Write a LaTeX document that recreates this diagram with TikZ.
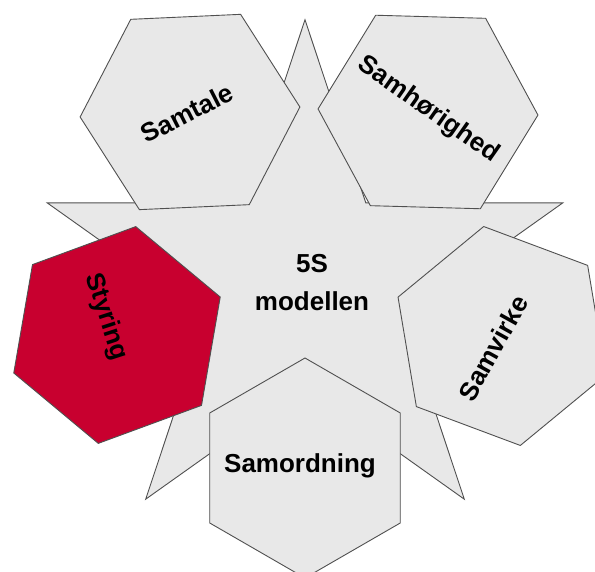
\documentclass[tikz,border=0pt]{standalone}
\usepackage{fontspec}
\setmainfont{Liberation Sans}
\usetikzlibrary{shapes.geometric,calc}

\definecolor{panelgray}{HTML}{E8E8E8}
\definecolor{edgegray}{HTML}{505050}
\definecolor{accentred}{HTML}{C8002F}

\tikzset{
  starshape/.style={fill=panelgray, draw=edgegray, line width=0.9pt, line join=miter},
  hexbox/.style={regular polygon, regular polygon sides=6, minimum size=220pt,
    inner sep=0pt, outer sep=0pt, fill=panelgray, draw=edgegray, line width=0.9pt},
  hexred/.style={hexbox, fill=accentred},
  label5s/.style={font=\bfseries\fontsize{26}{38}\selectfont, text=black, inner sep=0pt}
}

\begin{document}
\begin{tikzpicture}[x=1pt,y=1pt]
  \useasboundingbox (0,0) rectangle (595,572);
  \fill[white] (0,0) rectangle (595,572);
  \clip (0,0) rectangle (595,572);

  % five-pointed star behind the hexagons
  \coordinate (sc) at (305,287.2);
  \draw[starshape]
    ($(sc)+(90:271 and 265)$)  -- ($(sc)+(126:103.5 and 101.2)$) --
    ($(sc)+(162:271 and 265)$) -- ($(sc)+(198:103.5 and 101.2)$) --
    ($(sc)+(234:271 and 265)$) -- ($(sc)+(270:103.5 and 101.2)$) --
    ($(sc)+(306:271 and 265)$) -- ($(sc)+(342:103.5 and 101.2)$) --
    ($(sc)+(18:271 and 265)$)  -- ($(sc)+(54:103.5 and 101.2)$) -- cycle;

  % centre label
  \node[label5s, align=center] (title) at (312,289) {5S\\modellen};

  % the five hexagons
  \node[hexbox, rotate=2.6] (hsamtale) at (190,460) {};
  \node[hexbox, rotate=-1.6] (hsamhor) at (428,460) {};
  \node[hexred, rotate=20.2] (hstyring) at (117,237) {};
  \node[hexbox, rotate=39.5, minimum size=222pt] (hsamvirke) at (502,236) {};
  \node[hexbox, rotate=30] (hsamord) at (305,104) {};

  % hexagon labels
  \node[label5s, rotate=27] (tsamtale) at (187,459) {Samtale};
  \node[label5s, rotate=-35] (tsamhor) at (428,462) {Samhørighed};
  \node[label5s, rotate=-72] (tstyring) at (106,255) {Styring};
  \node[label5s, rotate=61] (tsamvirke) at (493,224) {Samvirke};
  \node[label5s] (tsamord) at (300,106) {Samordning};
\end{tikzpicture}
\end{document}
